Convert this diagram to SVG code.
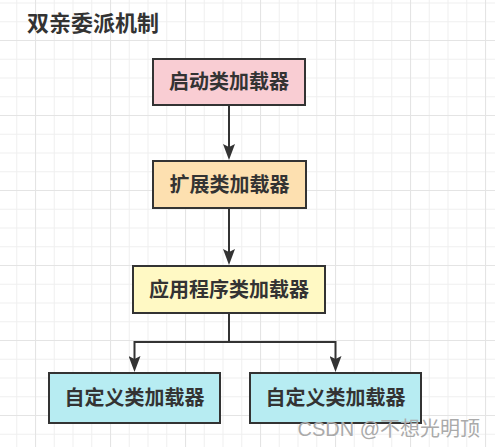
<svg xmlns="http://www.w3.org/2000/svg" width="495" height="447" viewBox="0 0 495 447">
<defs>
<pattern id="minor" patternUnits="userSpaceOnUse" x="16.25" y="2.5" width="18.75" height="18.75">
<path d="M0,0.5 H18.75 M0.5,0 V18.75" stroke="#efefef" stroke-width="1" fill="none"/>
</pattern>
<pattern id="major" patternUnits="userSpaceOnUse" x="35" y="40" width="75" height="75">
<path d="M0,0.5 H75 M0.5,0 V75" stroke="#e4e4e4" stroke-width="1.2" fill="none"/>
</pattern>
<marker id="arr" viewBox="0 0 16 12" markerWidth="16" markerHeight="12" refX="3" refY="6" orient="auto" markerUnits="userSpaceOnUse">
<path d="M16,6 L0,0 L3,6 L0,12 Z" fill="#333333"/>
</marker>
<style>
.box{stroke:#333333;stroke-width:2}
.lbl{font-family:"Noto Sans CJK SC","Noto Sans",sans-serif;font-weight:bold;font-size:20px;fill:#333333;text-anchor:middle}
.edge{stroke:#333333;stroke-width:2;fill:none}
</style>
</defs>
<rect width="495" height="447" fill="#ffffff"/>
<rect width="495" height="447" fill="url(#minor)"/>
<rect width="495" height="447" fill="url(#major)"/>
<text x="27" y="31" style="font-family:'Noto Sans CJK SC','Noto Sans',sans-serif;font-weight:bold;font-size:22px;fill:#333333">双亲委派机制</text>
<g id="edges">
<path class="edge" d="M229,106 L229,147" marker-end="url(#arr)"/>
<path class="edge" d="M229,209 L229,252" marker-end="url(#arr)"/>
<path class="edge" d="M229,314 L229,342 L134.5,342 L134.5,359" marker-end="url(#arr)"/>
<path class="edge" d="M229,342 L335.5,342 L335.5,359" marker-end="url(#arr)"/>
</g>
<g id="bootstrap">
<rect class="box" x="153" y="59" width="152" height="46" fill="#f9cdd3"/>
<text class="lbl" x="229" y="89">启动类加载器</text>
</g>
<g id="extension">
<rect class="box" x="153" y="161" width="153" height="47" fill="#fde0b0"/>
<text class="lbl" x="229.5" y="191.5">扩展类加载器</text>
</g>
<g id="application">
<rect class="box" x="133" y="266" width="192" height="47" fill="#fff9c4"/>
<text class="lbl" x="229" y="296.5">应用程序类加载器</text>
</g>
<g id="custom1">
<rect class="box" x="49" y="373" width="171" height="50" fill="#b7ecf2"/>
<text class="lbl" x="134.5" y="405">自定义类加载器</text>
</g>
<g id="custom2">
<rect class="box" x="250" y="373" width="171" height="50" fill="#b7ecf2"/>
<text class="lbl" x="335.5" y="405">自定义类加载器</text>
</g>
<text x="480" y="436" text-anchor="end" style="font-family:'Liberation Sans','Noto Sans CJK SC',sans-serif;font-size:20px;fill:#aaaaaa">CSDN @不想光明顶</text>
</svg>
